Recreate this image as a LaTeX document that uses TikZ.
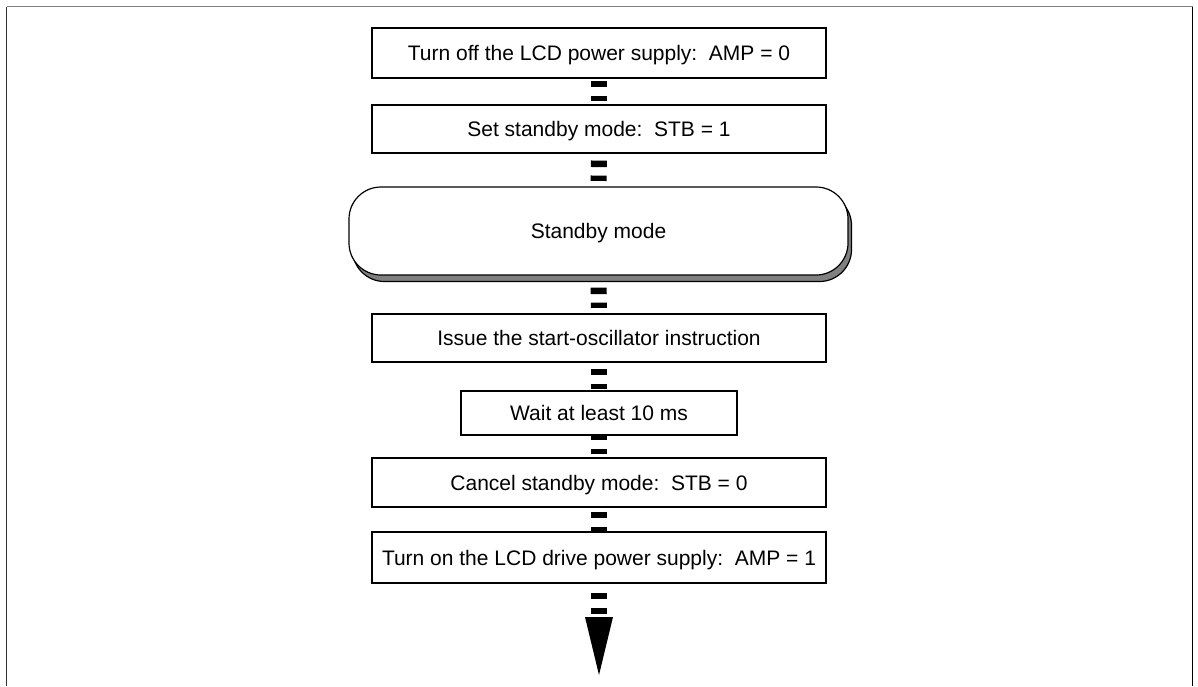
\documentclass[tikz,border=0pt]{standalone}
\usepackage{fontspec}
\setmainfont{Liberation Sans}
\usetikzlibrary{shadows}
\begin{document}
\begin{tikzpicture}[x=1pt,y=-1pt,
  font=\fontsize{21}{25}\selectfont,
  box/.style={draw=black, line width=1.2pt, fill=white, inner sep=0pt,
    text height=15pt, text depth=0pt},
  conn/.style={line width=16pt, dash pattern=on 6.5pt off 8.5pt},
  frameline/.style={line width=1.3pt}]
\useasboundingbox (0,0) rectangle (1198,686);
% frame
\draw[frameline, black!50] (6.5,6.7) -- (1192.5,6.7);
\draw[frameline, black!80] (6.5,6.7) -- (6.5,686);
\draw[frameline, black] (1192.5,6.7) -- (1192.5,686);
% nodes
\node[box, minimum width=454pt, minimum height=50pt] (b1) at (599,53)
  {Turn off the LCD power supply:\ \ AMP = 0};
\node[box, minimum width=454pt, minimum height=48pt] (b2) at (599,129)
  {Set standby mode:\ \ STB = 1};
\node[box, rounded corners=32pt, minimum width=499pt, minimum height=88pt,
  drop shadow={shadow xshift=3.5pt, shadow yshift=-6.5pt, fill=black!50, draw=black, line width=1.2pt, opacity=1}]
  (sb) at (598.5,231) {Standby mode};
\node[box, minimum width=454pt, minimum height=48pt] (b4) at (599,338)
  {Issue the start-oscillator instruction};
\node[box, minimum width=276pt, minimum height=44pt] (b5) at (599,413)
  {Wait at least 10 ms};
\node[box, minimum width=454pt, minimum height=49pt] (b6) at (599,482.5)
  {Cancel standby mode:\ \ STB = 0};
\node[box, minimum width=454pt, minimum height=51pt] (b7) at (599,557.5)
  {Turn on the LCD drive power supply:\ \ AMP = 1};
\coordinate (tipTop) at (599,617);
\coordinate (tipEnd) at (599,675);
% connectors
\draw[conn, shorten <=2pt, shorten >=3.5pt] (b1.south) -- (b2.north);
\draw[conn, shorten <=7pt, shorten >=5.5pt] (b2.south) -- (sb.north);
\draw[conn, shorten <=12pt, shorten >=5.5pt] (sb.south) -- (b4.north);
\draw[conn, shorten <=6pt, shorten >=1.5pt] (b4.south) -- (b5.north);
\draw[conn, shorten <=-2pt, shorten >=3.5pt] (b5.south) -- (b6.north);
\draw[conn, shorten <=4pt, shorten >=0pt] (b6.south) -- (b7.north);
\draw[conn, shorten <=9pt, shorten >=3.5pt] (b7.south) -- (tipTop);
\fill[black] ([xshift=-14pt]tipTop) -- ([xshift=14pt]tipTop) -- (tipEnd) -- cycle;
\end{tikzpicture}
\end{document}
